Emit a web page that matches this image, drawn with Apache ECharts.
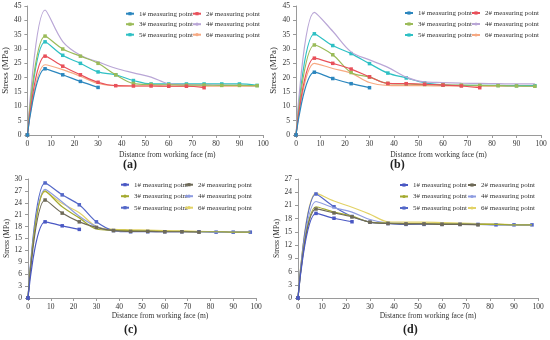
<!DOCTYPE html>
<html>
<head>
<meta charset="utf-8">
<script src="https://cdn.jsdelivr.net/npm/echarts@6/dist/echarts.min.js"></script>
<style>html,body{margin:0;padding:0;background:#fff;}#c{width:550px;height:340px;}</style>
</head>
<body>
<div id="c"></div>
<script>
// ---- data ----
const xDist = [0, 7.5, 15, 22.5, 30, 37.5, 45, 52.5, 60, 67.5, 75, 82.5, 90, 97.5];
const xTicks = [0, 10, 20, 30, 40, 50, 60, 70, 80, 90, 100];
const pointNames = ['1#', '2#', '3#', '4#', '5#', '6#'];
const panelLabels = ['(a)', '(b)', '(c)', '(d)'];
const yMaxes = [45, 45, 30, 27];
const yIntervals = [5, 5, 3, 3];

// (a)
const a1 = [0, 23.1, 21.0, 18.7, 16.6];
const a2 = [0, 27.5, 24.0, 21.0, 18.4, 17.2, 17.1, 17.1, 17.0, 17.0, 16.5];
const a3 = [0, 34.5, 30.0, 27.5, 25.0, 21.0, 18.0, 17.6, 17.5, 17.4, 17.4, 17.3, 17.3, 17.2];
const a4 = [0, 43.6, 32.6, 27.8, 25.5, 23.3, 21.7, 20.2, 17.9, 17.6, 17.5, 17.4, 17.3, 17.2];
const a5 = [0, 32.5, 27.8, 25.0, 22.0, 21.0, 19.0, 17.8, 17.8, 17.8, 17.8, 17.8, 17.8, 17.3];
const a6 = [0, 24.5, 22.8, 20.5, 18.0, 17.2, 17.1, 17.1, 17.0, 17.0, 17.0, 17.0, 17.0, 17.0];
// (b)
const b1 = [0, 21.9, 19.7, 17.9, 16.5];
const b2 = [0, 26.8, 25.0, 23.0, 20.3, 18.0, 17.9, 17.7, 17.4, 17.1, 16.5];
const b3 = [0, 31.4, 28.0, 21.8, 20.2, 18.0, 17.8, 17.6, 17.5, 17.4, 17.3, 17.2, 17.1, 17.0];
const b4 = [0, 42.8, 36.2, 29.0, 26.2, 23.6, 20.2, 18.5, 18.3, 18.1, 18.0, 17.9, 17.8, 17.8];
const b5 = [0, 35.3, 31.2, 28.4, 24.9, 21.6, 19.9, 18.2, 17.5, 17.3, 17.3, 17.3, 17.2, 17.2];
const b6 = [0, 25.0, 23.2, 21.6, 18.3, 17.3, 17.2, 17.2, 17.1, 17.1, 17.0, 17.0, 17.0, 17.0];
// (c)
const c1 = [0, 19.2, 18.2, 17.3];
const c2 = [0, 24.7, 21.4, 19.2, 17.8, 17.0, 16.8, 16.8, 16.7, 16.7, 16.6];
const c3 = [0, 27.0, 23.0, 20.2, 17.4, 17.1, 17.0, 16.9, 16.8, 16.8, 16.7, 16.7, 16.6, 16.6];
const c4 = [0, 27.4, 24.2, 20.6, 18.0, 16.9, 16.8, 16.8, 16.7, 16.7, 16.7, 16.6, 16.6, 16.6];
const c5 = [0, 29.0, 26.0, 23.5, 19.2, 17.0, 16.7, 16.7, 16.7, 16.7, 16.7, 16.6, 16.6, 16.6];
const c6 = [0, 26.8, 23.8, 21.5, 18.0, 17.3, 17.2, 17.1, 17.0, 16.9, 16.8, 16.7, 16.6, 16.6];
// (d)
const d1 = [0, 19.2, 18.1, 17.3];
const d2 = [0, 20.2, 19.3, 18.4, 17.2, 16.9, 16.8, 16.8, 16.7, 16.7, 16.6];
const d3 = [0, 20.7, 19.5, 18.6, 17.2, 17.0, 16.9, 16.9, 16.8, 16.8, 16.7, 16.7, 16.6, 16.6];
const d4 = [0, 21.9, 20.5, 19.5, 17.8, 17.0, 16.9, 16.8, 16.8, 16.7, 16.7, 16.7, 16.6, 16.6];
const d5 = [0, 23.6, 20.7, 18.5, 17.2, 16.9, 16.7, 16.7, 16.7, 16.7, 16.7, 16.6, 16.6, 16.6];
const d6 = [0, 23.8, 22.0, 20.6, 19.0, 17.3, 17.2, 17.2, 17.1, 17.0, 16.9, 16.8, 16.6, 16.5];

const panels = [[a1, a2, a3, a4, a5, a6], [b1, b2, b3, b4, b5, b6], [c1, c2, c3, c4, c5, c6], [d1, d2, d3, d4, d5, d6]];

// ---- styles / layout ----
const FONT = 'Liberation Serif';
const colorsAB = ['#2B86BE', '#E8505A', '#9BBB59', '#B9A6D6', '#2EC0C4', '#F7A982'];
const colorsCD = ['#4A58C4', '#6E6A58', '#A4AA30', '#8E9CE0', '#5468C8', '#E2D266'];
const markersAB = [true, true, true, false, true, false];
const markersCD = [true, true, false, false, true, false];
const grids = [
  {left: 23, top: 6, width: 240, height: 129},
  {left: 296, top: 6, width: 245, height: 129},
  {left: 28, top: 179, width: 228, height: 119},
  {left: 298, top: 179, width: 240, height: 119}
];
const xNameGap = [16, 16, 14, 14];
const xNameShift = [44, 40, 36, 20];
const yNameGap = [11, 11, 13, 13];
const yNameSize = [9, 9, 7.5, 7.5];
const legendCols = [[125, 192], [404, 471], [120, 184], [399, 467]];
const legendTop = [9.7, 9, 180.7, 181];
const legendGap = [2.5, 3, 3.5, 3.5];
const labelPos = [[131, 166], [398, 166], [132, 331], [411, 331]];

const xAxis = [], yAxis = [], series = [], legend = [], graphic = [];
panels.forEach((sets, p) => {
  const cols = p < 2 ? colorsAB : colorsCD;
  const mk = p < 2 ? markersAB : markersCD;
  xAxis.push({
    type: 'value', gridIndex: p, min: xTicks[0], max: xTicks[xTicks.length - 1], interval: xTicks[1] - xTicks[0],
    splitLine: {show: false},
    axisLine: {lineStyle: {color: '#9a9a9a', width: 1}},
    axisTick: {show: true, length: 3, lineStyle: {color: '#9a9a9a'}},
    axisLabel: {fontFamily: FONT, fontSize: 7.5, color: '#333', margin: 5},
    name: 'Distance from working face (m)', nameLocation: 'middle', nameGap: xNameGap[p],
    nameTextStyle: {fontFamily: FONT, fontSize: 7.5, color: '#333', padding: [0, 0, 0, xNameShift[p]]}
  });
  yAxis.push({
    type: 'value', gridIndex: p, min: 0, max: yMaxes[p], interval: yIntervals[p],
    splitLine: {show: false},
    axisLine: {show: true, lineStyle: {color: '#9a9a9a', width: 1}},
    axisTick: {show: true, length: 3, lineStyle: {color: '#9a9a9a'}},
    axisLabel: {fontFamily: FONT, fontSize: 7.5, color: '#333', margin: 6},
    name: 'Stress (MPa)', nameLocation: 'middle', nameGap: yNameGap[p],
    nameTextStyle: {fontFamily: FONT, fontSize: yNameSize[p], color: '#333'}
  });
  const names = [];
  sets.forEach((vals, i) => {
    const nm = 'p' + p + '_' + pointNames[i];
    names.push(nm);
    series.push({
      type: 'line', name: nm, xAxisIndex: p, yAxisIndex: p,
      data: vals.map((v, k) => [xDist[k], v]),
      smooth: 0.35,
      symbol: mk[i] ? 'rect' : 'none', symbolSize: 3.5, showSymbol: mk[i],
      lineStyle: {width: 1.2, color: cols[i]},
      itemStyle: {color: cols[i]},
      z: 10 - i
    });
  });
  [0, 1].forEach(c => {
    legend.push({
      orient: 'vertical', left: legendCols[p][c], top: legendTop[p], padding: 0,
      itemWidth: 8, itemHeight: 4, itemGap: legendGap[p],
      data: [names[c], names[c + 2], names[c + 4]],
      formatter: n => n.split('_')[1] + ' measuring point',
      textStyle: {fontFamily: FONT, fontSize: 7, color: '#333', lineHeight: 8}
    });
  });
  graphic.push({
    type: 'text', left: labelPos[p][0] - 8, top: labelPos[p][1] - 7,
    style: {text: panelLabels[p], font: 'bold 12px "Liberation Serif"', fill: '#222'}
  });
});

const chart = echarts.init(document.getElementById('c'), null, {renderer: 'canvas'});
chart.setOption({
  animation: false,
  backgroundColor: '#fff',
  grid: grids,
  xAxis, yAxis, series, legend, graphic
});
</script>
</body>
</html>
